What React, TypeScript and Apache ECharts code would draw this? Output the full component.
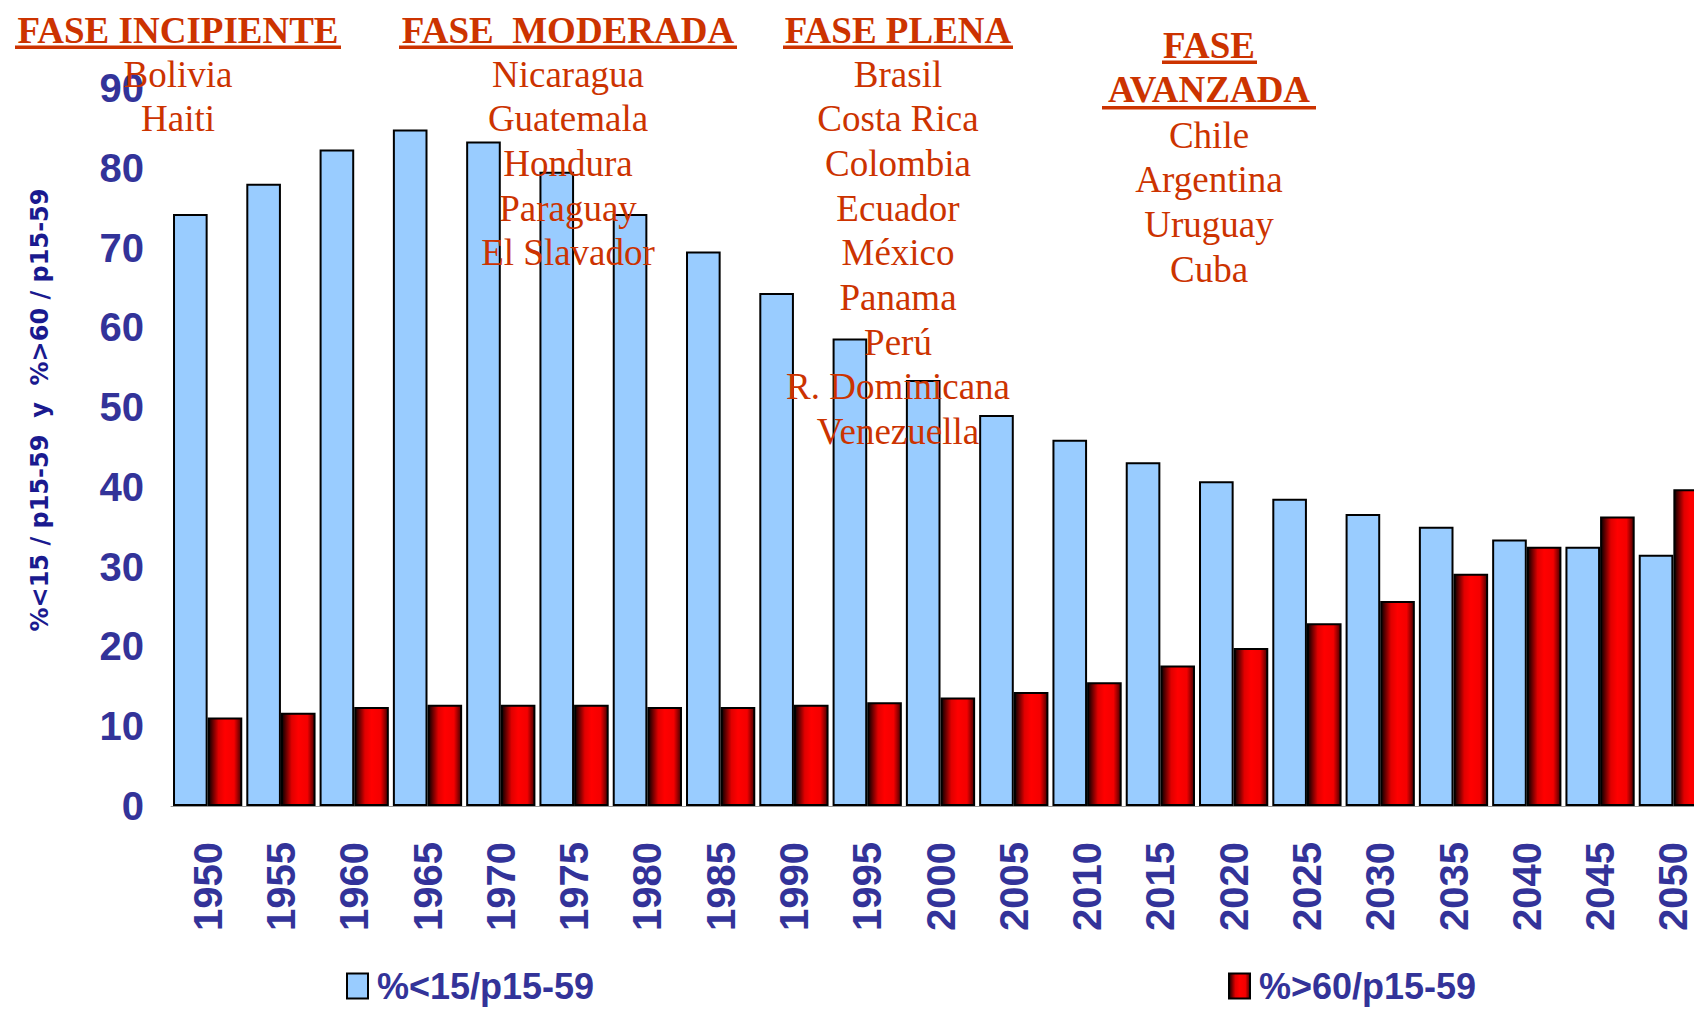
import React, { useEffect, useRef } from "react";
import * as echarts from "echarts";

const years = ["1950", "1955", "1960", "1965", "1970", "1975", "1980", "1985", "1990", "1995", "2000", "2005", "2010", "2015", "2020", "2025", "2030", "2035", "2040", "2045", "2050"];
const youngRatio = [74.2, 78.0, 82.3, 84.8, 83.3, 79.5, 74.2, 69.5, 64.3, 58.6, 53.4, 49.0, 45.9, 43.1, 40.7, 38.5, 36.6, 35.0, 33.4, 32.5, 31.5];
const oldRatio = [11.1, 11.7, 12.4, 12.7, 12.7, 12.7, 12.4, 12.4, 12.7, 13.0, 13.6, 14.3, 15.5, 17.6, 19.8, 22.9, 25.7, 29.1, 32.5, 36.3, 39.7];
const seriesNames = ["%<15/p15-59", "%>60/p15-59"];
const yAxisTitle = "%<15 / p15-59  y  %>60 / p15-59";

const phaseIncipiente = ["Bolivia", "Haiti"];
const phaseModerada = ["Nicaragua", "Guatemala", "Hondura", "Paraguay", "El Slavador"];
const phasePlena = ["Brasil", "Costa Rica", "Colombia", "Ecuador", "México", "Panama", "Perú", "R. Dominicana", "Venezuella"];
const phaseAvanzada = ["Chile", "Argentina", "Uruguay", "Cuba"];

const ORANGE = "#CC3300";
const NAVY = "#333399";
const SERIF = "'Liberation Serif', 'Times New Roman', serif";
const SANS = "'Liberation Sans', Arial, sans-serif";
const LINE = 44.7;

function headerText(text: string, x: number, y: number) {
  return {
    type: "text",
    z: 100,
    x,
    y,
    style: {
      text,
      fill: ORANGE,
      fontFamily: SERIF,
      fontWeight: "bold",
      fontSize: 37,
      align: "center",
      verticalAlign: "middle",
    },
  };
}

function underline(x1: number, x2: number, y: number) {
  return {
    type: "rect",
    z: 100,
    shape: { x: x1, y, width: x2 - x1, height: 3.5 },
    style: { fill: ORANGE },
  };
}

function countryList(list: string[], x: number, y0: number) {
  return list.map((c, i) => ({
    type: "text",
    z: 100,
    x,
    y: y0 + i * LINE,
    style: {
      text: c,
      fill: ORANGE,
      fontFamily: SERIF,
      fontSize: 37,
      align: "center",
      verticalAlign: "middle",
    },
  }));
}

export default function App() {
  const ref = useRef<HTMLDivElement>(null);

  useEffect(() => {
    if (!ref.current) return;
    const chart = echarts.init(ref.current, null, { renderer: "svg" });

    const redGradient = new echarts.graphic.LinearGradient(0, 0, 1, 0, [
      { offset: 0, color: "#0a0000" },
      { offset: 0.3, color: "#e00000" },
      { offset: 0.5, color: "#ff0000" },
      { offset: 0.78, color: "#f40000" },
      { offset: 1, color: "#4a0000" },
    ]);

    const legendText = {
      fontSize: 36,
      fontWeight: "bold",
      color: NAVY,
      fontFamily: SANS,
      padding: [0, 0, 0, 4],
    };

    const option: any = {
      animation: false,
      backgroundColor: "#ffffff",
      grid: { left: 171, width: 1539, top: 88, bottom: 205, containLabel: false, outerBoundsMode: "none" },
      legend: [
        {
          data: [seriesNames[0]],
          left: 341,
          top: 963,
          icon: "rect",
          itemWidth: 21,
          itemHeight: 25,
          textStyle: legendText,
        },
        {
          data: [seriesNames[1]],
          left: 1223,
          top: 963,
          icon: "rect",
          itemWidth: 21,
          itemHeight: 25,
          textStyle: legendText,
        },
      ],
      xAxis: {
        type: "category",
        data: years,
        axisLine: { show: true, lineStyle: { color: "#999999", width: 1 } },
        axisTick: { show: false },
        axisLabel: {
          rotate: 90,
          margin: 36,
          fontSize: 40,
          fontWeight: "bold",
          color: NAVY,
          fontFamily: SANS,
        },
      },
      yAxis: {
        type: "value",
        min: 0,
        max: 90,
        interval: 10,
        axisLine: { show: false },
        axisTick: { show: false },
        splitLine: { show: false },
        axisLabel: {
          margin: 27,
          fontSize: 40,
          fontWeight: "bold",
          color: NAVY,
          fontFamily: SANS,
        },
        name: yAxisTitle,
        nameLocation: "middle",
        nameRotate: 90,
        nameGap: 119,
        nameTextStyle: {
          fontSize: 24,
          fontWeight: "bold",
          color: "#1a1a8f",
          fontFamily: "'DejaVu Sans', Verdana, sans-serif",
          padding: [0, 0, 0, 74],
        },
      },
      series: [
        {
          name: seriesNames[0],
          type: "bar",
          data: youngRatio,
          barGap: "0%",
          barCategoryGap: "5.5%",
          itemStyle: { color: "#99CCFF", borderColor: "#000000", borderWidth: 2 },
        },
        {
          name: seriesNames[1],
          type: "bar",
          data: oldRatio,
          barGap: "0%",
          barCategoryGap: "5.5%",
          itemStyle: { color: redGradient, borderColor: "#000000", borderWidth: 2 },
        },
      ],
      graphic: [
        headerText("FASE INCIPIENTE", 178, 30),
        underline(15, 341, 45.5),
        headerText("FASE  MODERADA", 568, 30),
        underline(399, 737, 45.5),
        headerText("FASE PLENA", 898, 30),
        underline(783, 1013, 45.5),
        headerText("FASE", 1209, 45.5),
        underline(1162, 1257, 60.5),
        headerText("AVANZADA", 1209, 89.5),
        underline(1102, 1316, 106),
        ...countryList(phaseIncipiente, 178, 74),
        ...countryList(phaseModerada, 568, 74),
        ...countryList(phasePlena, 898, 74),
        ...countryList(phaseAvanzada, 1209, 135),
      ],
    };

    chart.setOption(option);
    return () => chart.dispose();
  }, []);

  return (
    <div style={{ position: "fixed", left: 0, top: 0, width: "1694px", height: "1011px", overflow: "hidden", background: "#fff" }}>
      <div ref={ref} style={{ width: "1730px", height: "1011px" }} />
    </div>
  );
}
